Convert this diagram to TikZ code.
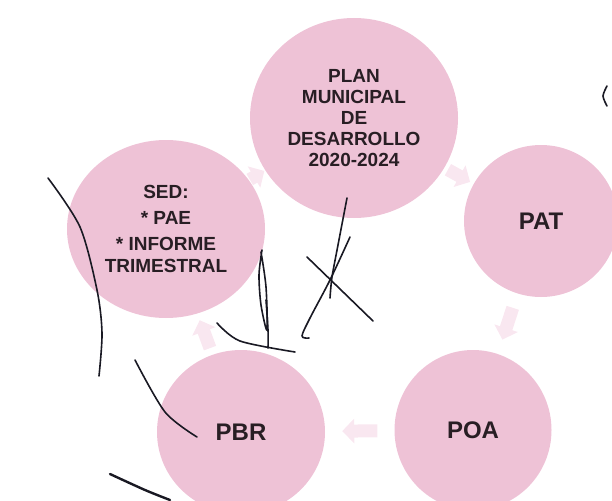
\documentclass[tikz,border=0pt]{standalone}
\usepackage{fontspec}
\setmainfont{Liberation Sans}
\usetikzlibrary{shapes.geometric,arrows.meta}
\definecolor{rosa}{RGB}{238,194,214}
\definecolor{rosaclaro}{RGB}{249,231,240}
\definecolor{tinta}{RGB}{40,30,36}
\definecolor{pluma}{RGB}{25,25,35}
\tikzset{
  etapa/.style={ellipse, fill=rosa, inner sep=0pt, align=center, text=tinta,
    font=\bfseries\fontsize{19}{21}\selectfont},
  sigla/.style={etapa, font=\bfseries\fontsize{24}{26}\selectfont},
  flecha/.style={-{Triangle[length=12pt,width=24pt]}, line width=13pt, rosaclaro},
  trazo/.style={pluma, line width=1.6pt, line cap=round, line join=round}
}

\begin{document}
\begin{tikzpicture}[x=1pt,y=-1pt]
    \useasboundingbox (0,0) rectangle (612,500);

    \node[etapa, minimum width=208pt, minimum height=200pt] (plan) at (354,118)
        {PLAN\\MUNICIPAL\\DE\\DESARROLLO\\2020-2024};
    \node[sigla, minimum width=154pt, minimum height=152pt] (pat) at (541,221) {PAT};
    \node[sigla, minimum width=157pt, minimum height=160pt] (poa) at (473,430) {POA};
    \node[sigla, minimum width=168pt, minimum height=164pt] (pbr) at (241,432) {PBR};
    \node[etapa, minimum width=198pt, minimum height=178pt, font=\bfseries\fontsize{19}{26}\selectfont] (sed) at (166,229)
        {SED:\\* PAE\\* INFORME\\[-4pt]TRIMESTRAL};

    \foreach \a/\b/\s in {plan/pat/4, pat/poa/15, poa/pbr/17, pbr/sed/7, sed/plan/1}
        \draw[flecha, shorten <=\s pt, shorten >=\s pt] (\a) -- (\b);

    \draw[trazo] plot[smooth] coordinates {(48,178) (80,227) (97,290) (102,333) (99,376)};
    \draw[trazo] plot[smooth] coordinates {(262,250) (259,275) (261,305) (267,330) (266,287) (261,252)};
    \draw[trazo] plot[smooth] coordinates {(266,300) (268,330) (268,348)};
    \draw[trazo] plot[smooth] coordinates {(217,323) (240,341) (295,352)};
    \draw[trazo] (307,257) -- (373,321);
    \draw[trazo] plot[smooth] coordinates {(347,198) (338,245) (332,277) (330,298)};
    \draw[trazo] plot[smooth] coordinates {(350,237) (330,280) (310,318) (302,336) (309,338)};
    \draw[trazo] plot[smooth] coordinates {(135,360) (165,412) (197,437)};
    \draw[trazo, line width=2.4pt] plot[smooth] coordinates {(110,474) (145,490) (170,500)};
    \draw[trazo] plot[smooth] coordinates {(607,86) (603,96) (607,106)};
\end{tikzpicture}
\end{document}
